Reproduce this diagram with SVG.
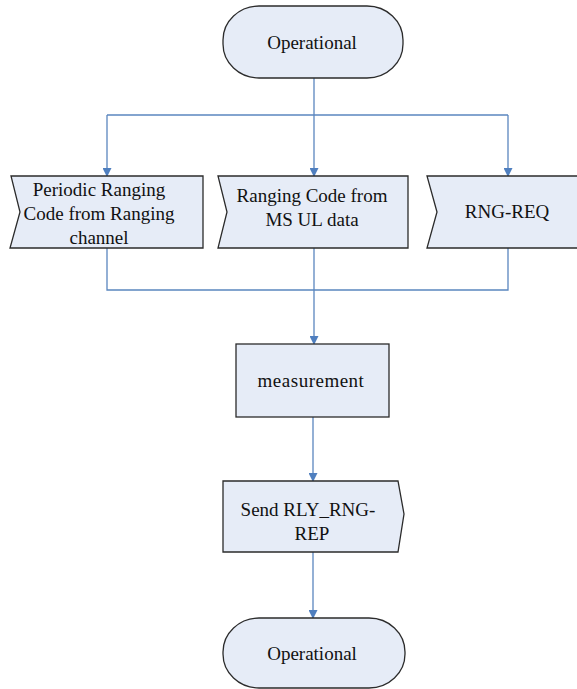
<svg xmlns="http://www.w3.org/2000/svg" width="577" height="689" viewBox="0 0 577 689">
<defs>
<marker id="ah" markerWidth="9" markerHeight="9" refX="8" refY="4.5" orient="auto" markerUnits="userSpaceOnUse">
<path d="M0,0 L9,4.5 L0,9 Z" fill="#4F7FBF"/>
</marker>
</defs>
<style>
.shape{fill:#E6ECF7;stroke:#2b2b2b;stroke-width:1.3}
.conn{fill:none;stroke:#5A86BF;stroke-width:1.3}
.t{font-family:'Liberation Serif','DejaVu Serif','Times New Roman',Times,serif;font-size:19px;fill:#111;text-anchor:middle}
</style>
<rect width="577" height="689" fill="#ffffff"/>
<g id="connectors">
<path class="conn" d="M314,78 V115"/>
<path class="conn" d="M107,115 H508"/>
<path class="conn" d="M107,115 V176" marker-end="url(#ah)"/>
<path class="conn" d="M314,115 V176" marker-end="url(#ah)"/>
<path class="conn" d="M508,115 V176" marker-end="url(#ah)"/>
<path class="conn" d="M107,248 V290 H508 V248"/>
<path class="conn" d="M314,248 V344" marker-end="url(#ah)"/>
<path class="conn" d="M313,417 V481" marker-end="url(#ah)"/>
<path class="conn" d="M313,552 V618" marker-end="url(#ah)"/>
</g>
<g id="start">
<rect class="shape" x="223" y="6" width="180" height="72" rx="36" ry="34"/>
<text class="t" x="312" y="49" font-family="Liberation Serif, serif">Operational</text>
</g>
<g id="periodic">
<path class="shape" d="M11,176 H203 V248 H10 L20,212 Z"/>
<text class="t" x="99" y="196" font-family="Liberation Serif, serif">Periodic Ranging</text>
<text class="t" x="99" y="220" font-family="Liberation Serif, serif">Code from Ranging</text>
<text class="t" x="99" y="244" font-family="Liberation Serif, serif">channel</text>
</g>
<g id="ulcode">
<path class="shape" d="M218,176 H408 V248 H218 L227,212 Z"/>
<text class="t" x="312" y="202" font-family="Liberation Serif, serif">Ranging Code from</text>
<text class="t" x="312" y="226" font-family="Liberation Serif, serif">MS UL data</text>
</g>
<g id="rngreq">
<path class="shape" d="M427,176 H580 V248 H427 L437,212 Z"/>
<text class="t" x="507" y="218" font-family="Liberation Serif, serif">RNG-REQ</text>
</g>
<g id="measurement">
<rect class="shape" x="236" y="344" width="153" height="73"/>
<text class="t" x="311" y="387" letter-spacing="0.5" font-family="Liberation Serif, serif">measurement</text>
</g>
<g id="send">
<path class="shape" d="M223,481 H398 L404,514 L398,552 H223 Z"/>
<text class="t" x="308" y="516" font-family="Liberation Serif, serif">Send RLY_RNG-</text>
<text class="t" x="312" y="540" font-family="Liberation Serif, serif">REP</text>
</g>
<g id="end">
<rect class="shape" x="223" y="618" width="182" height="70" rx="36" ry="34"/>
<text class="t" x="312" y="660" font-family="Liberation Serif, serif">Operational</text>
</g>
</svg>
